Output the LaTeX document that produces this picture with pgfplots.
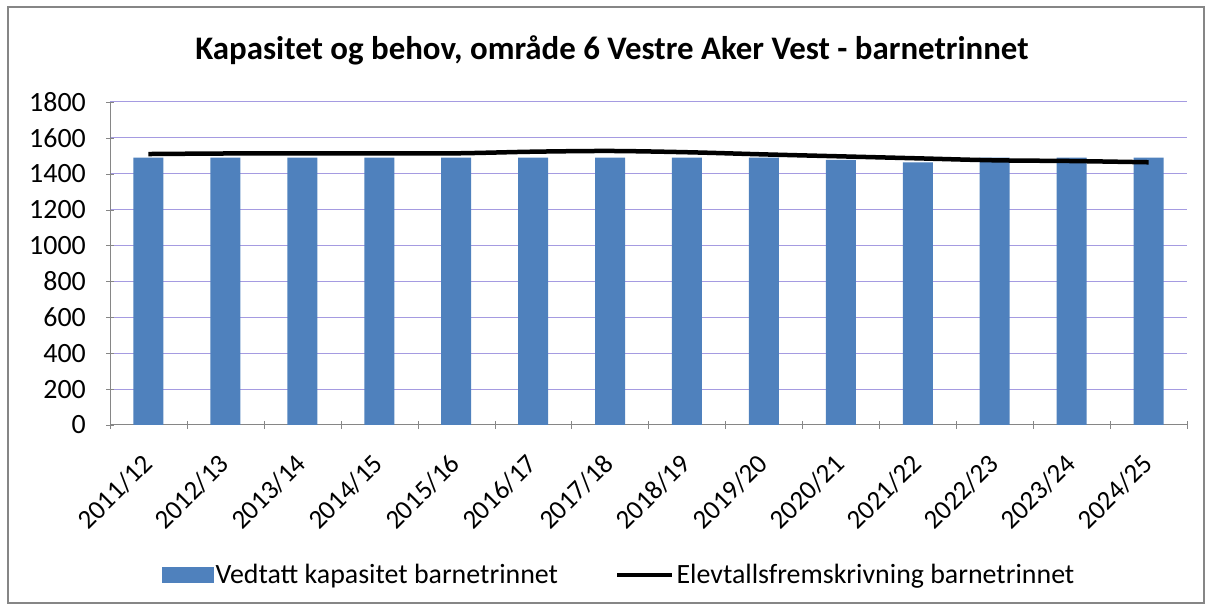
\documentclass[border=0pt]{standalone}
\usepackage{fontspec}
\setmainfont{Carlito}
\usepackage{pgfplots}
\pgfplotsset{compat=1.18}
\definecolor{barblue}{RGB}{79,129,189}
\definecolor{gridc}{RGB}{165,155,225}
\definecolor{axisgray}{RGB}{134,134,134}
\begin{document}
\begin{tikzpicture}[x=1bp,y=1bp]
\path (0,0) rectangle (1212,606);
\draw[axisgray, line width=1.5bp] (8,3) rectangle (1204,599);
\node[anchor=base, font=\bfseries\fontsize{33}{40}\selectfont] at (612,546) {Kapasitet og behov, område 6 Vestre Aker Vest - barnetrinnet};
\begin{axis}[
  at={(110bp,181bp)}, anchor=south west,
  scale only axis, width=1077bp, height=323bp,
  xmin=-0.5, xmax=13.5, ymin=0, ymax=1800,
  ytick={0,200,...,1800},
  xtick={0,...,13},
  xticklabels={2011/12,2012/13,2013/14,2014/15,2015/16,2016/17,2017/18,2018/19,2019/20,2020/21,2021/22,2022/23,2023/24,2024/25},
  minor xtick={-0.5,0.5,...,13.5},
  major x tick style={draw=none},
  minor x tick style={draw=axisgray},
  y tick style={draw=axisgray},
  tick align=outside, major tick length=8bp, minor tick length=8bp,
  axis lines=left, axis line style={-, draw=axisgray, line width=1bp},
  ymajorgrids, grid style={draw=gridc, line width=1bp},
  /pgf/number format/assume math mode=true,
  /pgf/number format/set thousands separator={},
  yticklabel style={inner sep=0pt, xshift=-20bp, font=\fontsize{28}{33}\selectfont},
  xticklabel style={xshift=-8bp, yshift=-23bp, rotate=45, anchor=north east, inner sep=0pt, font=\fontsize{27}{32}\selectfont},
  legend style={at={(0.4726,-0.464)}, anchor=center, draw=none, fill=none,
    legend columns=2, font=\fontsize{28}{33}\selectfont,
    nodes={inner sep=2bp},
    /tikz/every even column/.append style={column sep=55bp}},
  clip=false,
]
\addplot[ybar, bar width=30bp, fill=barblue, draw=none,
  legend image code/.code={\fill[barblue] (0bp,-8bp) rectangle (52bp,8bp);}]
  coordinates {(0,1490) (1,1490) (2,1490) (3,1490) (4,1490) (5,1490) (6,1490) (7,1490) (8,1490) (9,1477) (10,1464) (11,1490) (12,1490) (13,1490)};
\addlegendentry{Vedtatt kapasitet barnetrinnet}
\addplot[black, line width=4.5bp, smooth, mark=none,
  legend image code/.code={\draw[black, line width=4.5bp] (0bp,0bp) -- (55bp,0bp);}]
  coordinates {(0,1510) (1,1513) (2,1514) (3,1514) (4,1514) (5,1523) (6,1527) (7,1520) (8,1508) (9,1497) (10,1486) (11,1475) (12,1471) (13,1464)};
\addlegendentry{Elevtallsfremskrivning barnetrinnet}
\end{axis}
\end{tikzpicture}
\end{document}
